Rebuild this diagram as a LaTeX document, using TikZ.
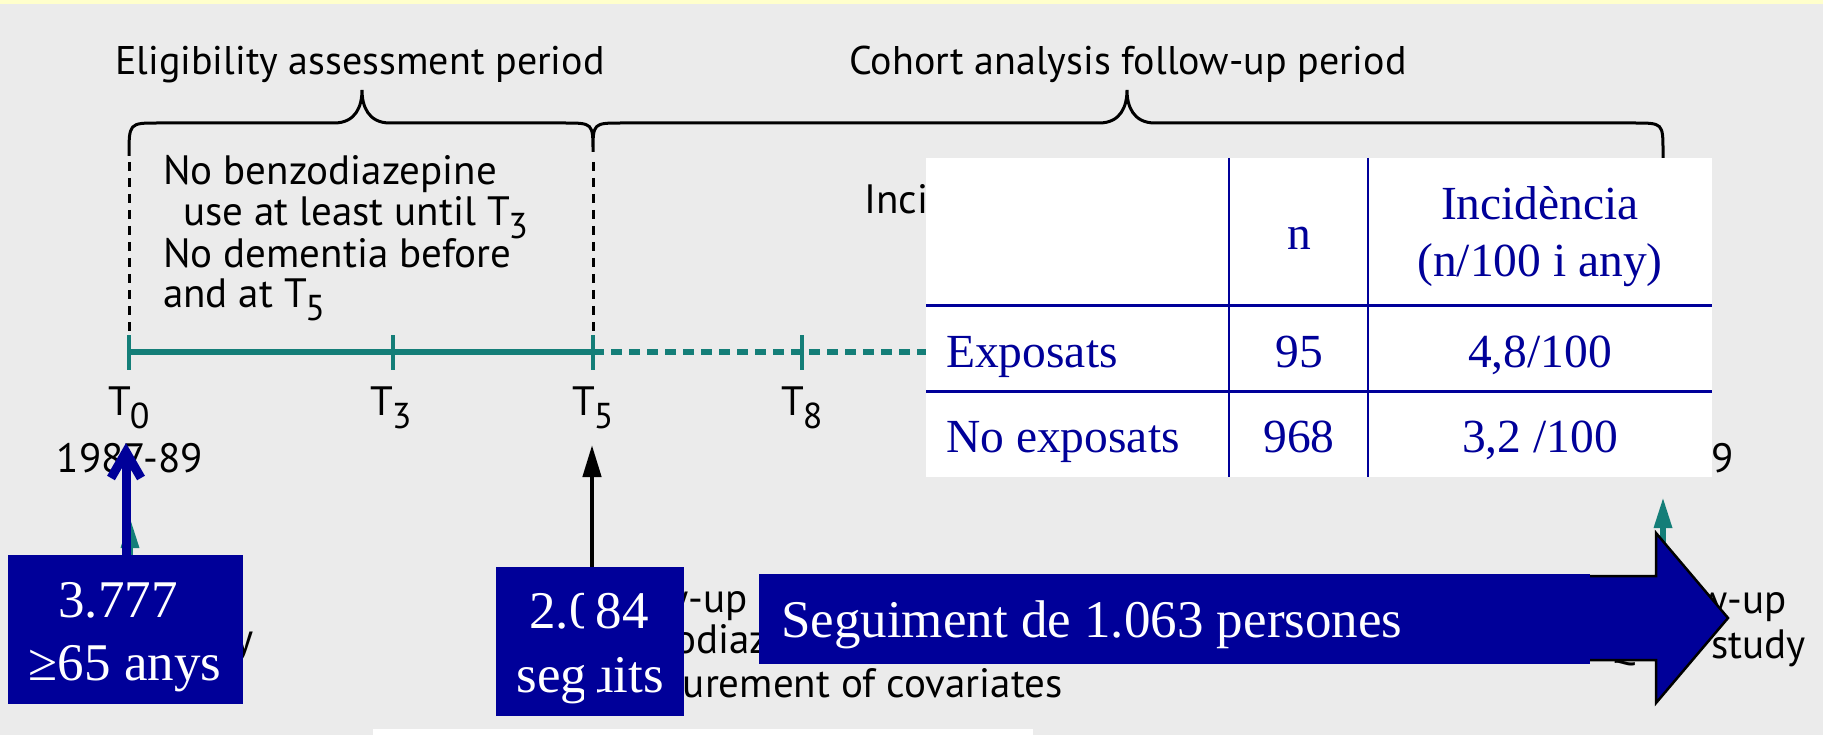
\documentclass[tikz,border=0pt]{standalone}
\usepackage{fontspec}
\setmainfont{PT Sans}
\newfontfamily\tnr{Liberation Serif}
\usepackage {tikz}
\usetikzlibrary {positioning}
\usetikzlibrary{arrows.meta}
\definecolor{navy}{RGB}{0,0,153}
\definecolor{timeteal}{RGB}{20,126,120}
\definecolor{bggray}{RGB}{235,235,235}
\definecolor{paleyellow}{RGB}{255,255,204}
\newcommand{\Tsub}[1]{T\kern-1.5pt\raisebox{-13pt}{\fontsize{36}{36}\selectfont #1}}
\tikzset{
	period/.style = {inner sep=0pt, anchor=base, font=\fontsize{40}{42}\selectfont},
    note/.style = {inner sep=0pt, anchor=base west, font=\fontsize{41}{43}\selectfont},
    brace/.style = {draw=black, line width=3pt},
    bluebox/.style = {rectangle, fill=navy, inner sep=0pt, anchor=north west},
    boxtext/.style = {inner sep=0pt, anchor=base, text=white, font=\tnr\fontsize{53}{63}\selectfont},
    tabtext/.style = {inner sep=0pt, anchor=base, text=navy, font=\tnr\fontsize{47.5}{56}\selectfont}}

\begin{document}
\begin{tikzpicture}[x=1pt, y=-1pt,
    tline/.style = {timeteal, line width=5.5pt},
    tick/.style = {timeteal, line width=4.5pt},
    vdash/.style = {black, line width=3pt, dash pattern=on 9pt off 7pt},
    tlabel/.style = {inner sep=0pt, anchor=base, font=\fontsize{41}{43}\selectfont},
    tabline/.style = {navy, line width=3pt}
    ]
    \useasboundingbox (0,0) rectangle (1823,735);
    \fill[bggray] (0,0) rectangle (1823,735);
    \fill[paleyellow] (0,0) rectangle (1823,4);

    \node[period] (elig) at (360,75) {Eligibility assessment period};
    \node[period] (cohort) at (1128,75) {Cohort analysis follow-up period};
    \draw[brace] (129,156) .. controls (129,123) .. (158,123) -- (334,123)
        .. controls (356,123) and (362,106) .. (362,90)
        .. controls (362,106) and (368,123) .. (390,123) -- (564,123)
        .. controls (593,123) .. (593,152)
        .. controls (593,123) .. (622,123) -- (1099,123)
        .. controls (1121,123) and (1127,106) .. (1127,90)
        .. controls (1127,106) and (1133,123) .. (1155,123) -- (1634,123)
        .. controls (1663,123) .. (1663,152) -- (1663,170);

    \coordinate (t0) at (129,352);
    \coordinate (t3) at (393,352);
    \coordinate (t5) at (593,352);
    \coordinate (t8) at (802,352);
    \coordinate (tend) at (1663,352);
    \draw[vdash] ([yshift=190pt]t0) -- ([yshift=14pt]t0);
    \draw[vdash] ([yshift=190pt]t5) -- ([yshift=14pt]t5);

    \node[note] (nb1) at (163,185) {No benzodiazepine};
    \node[note] (nb2) at (183,226) {use at least until \Tsub{3}};
    \node[note] (nb3) at (163,268) {No dementia before};
    \node[note] (nb4) at (163,308) {and at \Tsub{5}};

    \draw[tline, dash pattern=on 11pt off 7pt] (t5) -- (tend);
    \draw[tline] (t0) -- (t5);
    \foreach \t in {t0,t3,t5,t8}
        \draw[tick] ([yshift=17pt]\t) -- ([yshift=-18pt]\t);
    \node[tlabel] (T0) at (129,415) {\Tsub{0}};
    \node[tlabel] (T3) at (391,415) {\Tsub{3}};
    \node[tlabel] (T5) at (593,415) {\Tsub{5}};
    \node[tlabel] (T8) at (802,415) {\Tsub{8}};
    \node[tlabel] (y0) at (130,472) {1987-89};
    \node[tlabel, anchor=base east] (yend) at (1734,472) {2007-09};

    \node[note] (inc) at (864,214) {Incidence of dementia};
    \node[note, anchor=base east] (st0) at (254,652) {study};
    \node[note, anchor=base east] (fu5) at (748,612) {follow-up};
    \node[note] (bz5) at (591,653) {benzodiazepine use};
    \node[note] (cov5) at (591,697) {measurement of covariates};
    \node[note, anchor=base east] (fuend) at (1787,613) {follow-up};
    \node[note, anchor=base east] (stend) at (1806,658) {PAQUID study};

    \coordinate (a0) at (130,517);
    \coordinate (a0s) at (130,560);
    \coordinate (aend) at (1663,497);
    \coordinate (aends) at (1663,600);
    \draw[timeteal, line width=6pt, -{Triangle[length=31pt,width=17pt]}] (a0s) -- (a0);
    \draw[timeteal, line width=6pt, -{Triangle[length=31pt,width=17pt]}] (aends) -- (aend);

    \node[fill=white, minimum width=786pt, minimum height=319pt, inner sep=0pt, anchor=north west] (tab) at (926,158) {};
    \draw[tabline, line width=2.5pt] ([xshift=303pt]tab.north west) -- ([xshift=303pt]tab.south west);
    \draw[tabline, line width=2.5pt] ([xshift=442pt]tab.north west) -- ([xshift=442pt]tab.south west);
    \draw[tabline] ([yshift=-148pt]tab.north west) -- ([yshift=-148pt]tab.north east);
    \draw[tabline] ([yshift=-233pt]tab.north west) -- ([yshift=-233pt]tab.north east);
    \node[tabtext] (hn) at (1299,250) {n};
    \node[tabtext] (hinc) at (1540,220) {Incidència};
    \node[tabtext] (hunit) at (1540,277) {(n/100 i any)};
    \node[tabtext, anchor=base west] (rexp) at (946,367) {Exposats};
    \node[tabtext] (nexp) at (1299,367) {95};
    \node[tabtext] (iexp) at (1540,367) {4,8/100};
    \node[tabtext, anchor=base west] (rno) at (946,452) {No exposats};
    \node[tabtext] (nno) at (1299,452) {968};
    \node[tabtext] (ino) at (1540,452) {3,2 /100};

    \draw[fill=navy, draw=black, line width=2.5pt] (1300,576) -- (1656,576) -- (1656,533)
        -- (1728,618) -- (1656,703) -- (1656,660) -- (1300,660) -- cycle;
    \node[bluebox, minimum width=831pt, minimum height=90pt] (seg) at (759,574) {};
    \node[boxtext, anchor=base west] (segtext) at (781,637) {Seguiment de 1.063 persones};

    \node[bluebox, minimum width=235pt, minimum height=149pt] (box1) at (8,555) {};
    \node[boxtext] (n0) at (118,617) {3.777};
    \node[boxtext] (age) at (125,680) {≥65 anys};
    \node[bluebox, minimum width=188pt, minimum height=149pt] (box2) at (496,567) {};
    \node[boxtext] (n5) at (589,628) {2.084};
    \node[boxtext] (seg5) at (590,692) {seguits};
    \fill[navy] (584,578) rectangle (597,705);

    \coordinate (tip0) at (126,443);
    \coordinate (tip5) at (592,445);
    \draw[navy, line width=9pt, -{Straight Barb[length=26pt,width=30pt]}] (box1.north -| tip0) -- (tip0);
    \draw[black, line width=4.5pt, -{Triangle[length=32pt,width=18pt]}] (box2.north -| tip5) -- (tip5);

    \fill[white] (373,729) rectangle (1033,735);
    \end{tikzpicture}
\end{document}
